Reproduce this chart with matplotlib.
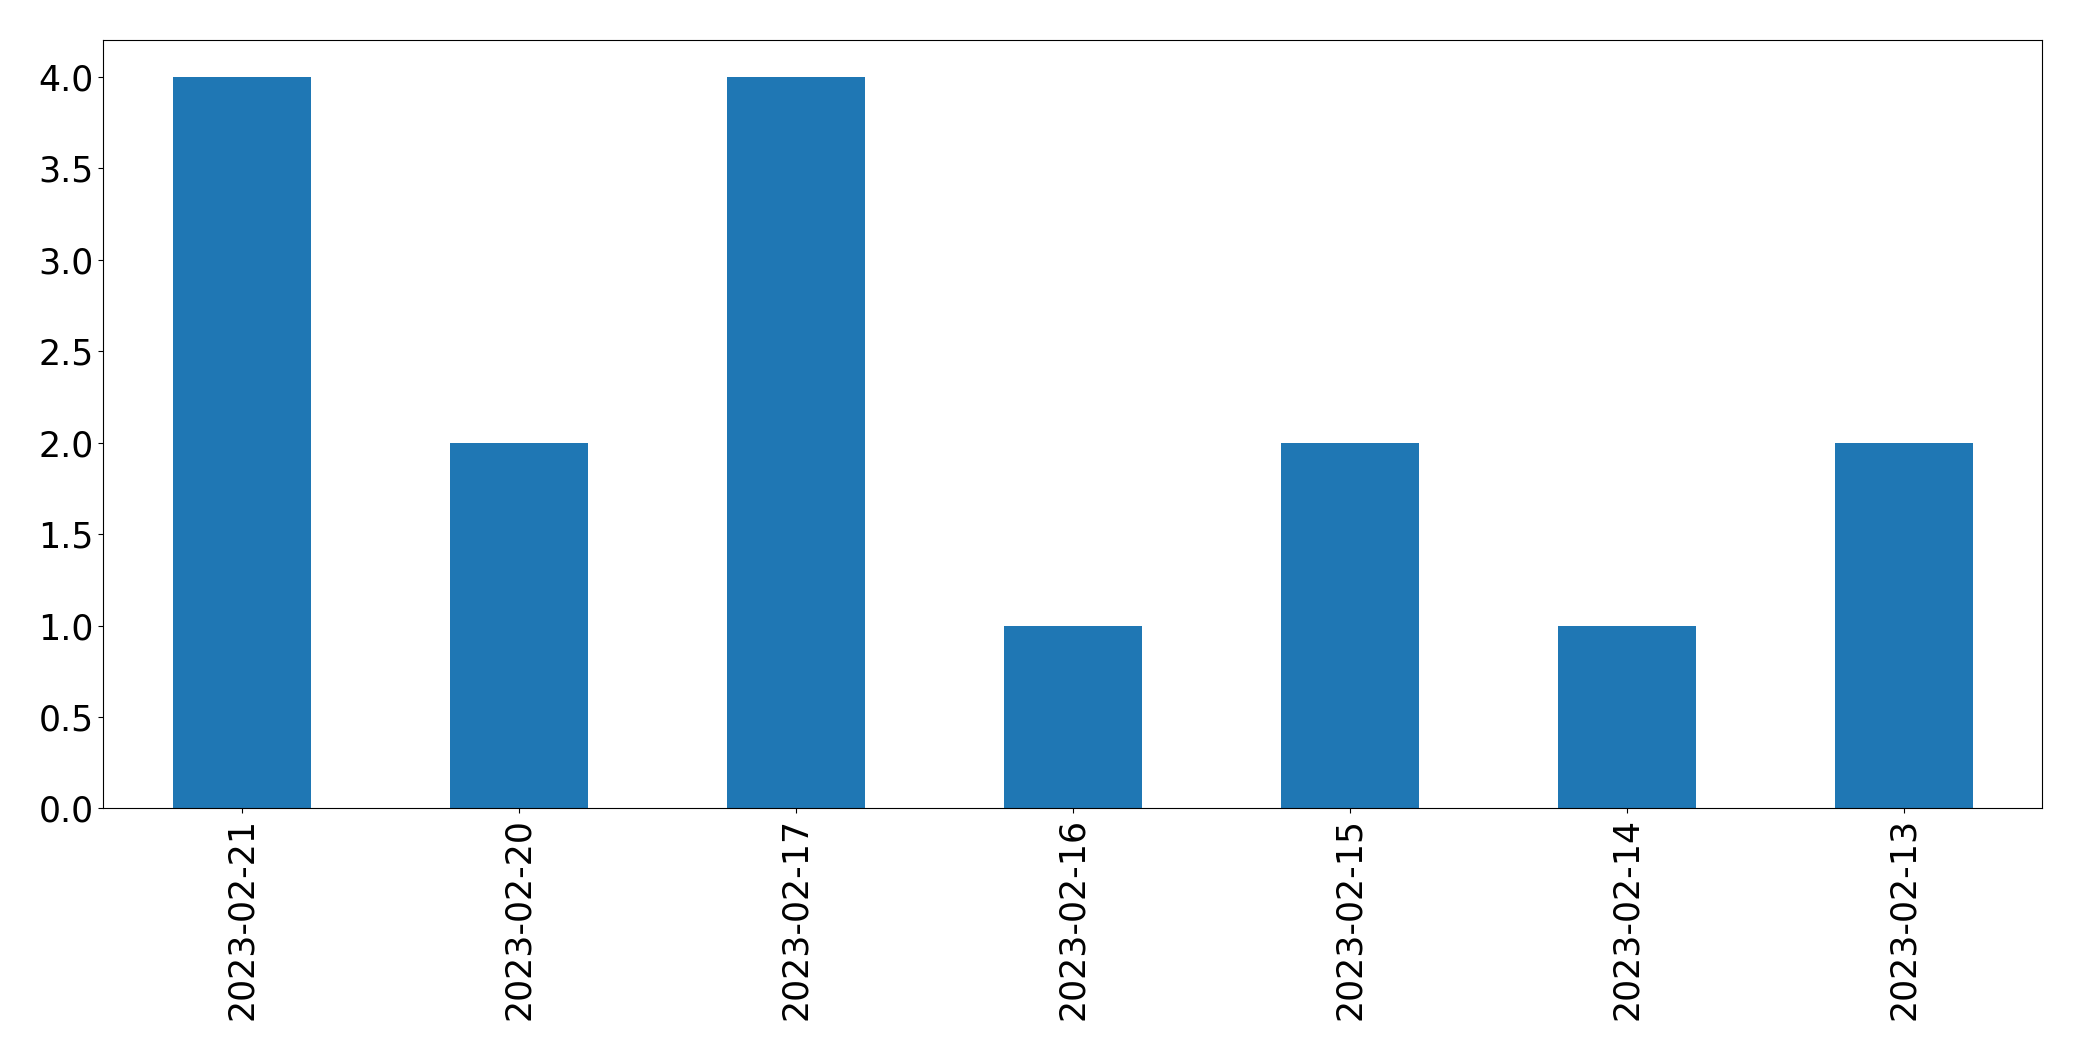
import matplotlib
matplotlib.use("Agg")
import matplotlib.pyplot as plt

dates = ["2023-02-21", "2023-02-20", "2023-02-17", "2023-02-16", "2023-02-15", "2023-02-14", "2023-02-13"]
counts = [4, 2, 4, 1, 2, 1, 2]

fig = plt.figure(figsize=(20.82, 10.61), dpi=100)
ax = fig.add_axes([0.0497, 0.238, 0.9313, 0.724])
x = range(len(dates))
ax.bar(x, counts, width=0.5, color="#1f77b4")
ax.set_xticks(list(x))
ax.set_xticklabels(dates, rotation=90, fontsize=25)
ax.tick_params(axis="y", labelsize=25)
ax.set_xlim(-0.5, len(dates) - 0.5)
ax.set_ylim(0, 4.2)
ax.set_yticks([0, 0.5, 1, 1.5, 2, 2.5, 3, 3.5, 4])
fig.savefig("out.png", dpi=100)
